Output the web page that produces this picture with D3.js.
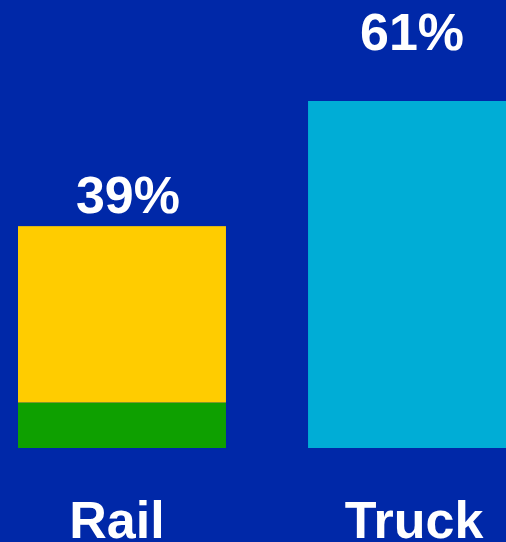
<!DOCTYPE html>
<html>
<head>
<meta charset="utf-8">
<script src="https://cdn.jsdelivr.net/npm/d3@7"></script>
<style>
  html, body { margin: 0; padding: 0; background: #0028A8; overflow: hidden; }
  text { font-family: "Liberation Sans", Arial, sans-serif; font-weight: bold; fill: #fff; }
</style>
</head>
<body>
<div id="chart"></div>
<script>
// datos
const modes = ["Rail", "Truck"];
const series = ["base", "top"];
const baseValues = [8, 61];   // parte inferior de cada barra
const topValues = [31, 0];    // parte superior (solo Rail)
const totalLabels = ["39%", "61%"];

const colores = {
  Rail: ["#0EA000", "#FFCC00"],
  Truck: ["#00ADD6", "#00ADD6"]
};

const W = 506, H = 542;
const svg = d3.select("#chart").append("svg").attr("width", W).attr("height", H);

svg.append("rect").attr("width", W).attr("height", H).attr("fill", "#0028A8");

// escaladores
const x = d3.scaleBand().domain(modes).range([18, 516]).paddingInner(0.283).paddingOuter(0);
const y = d3.scaleLinear().domain([0, 61]).range([448, 101]);

const tabla = modes.map((m, i) => ({ mode: m, base: baseValues[i], top: topValues[i] }));
const stacked = d3.stack().keys(series)(tabla);

svg.append("g")
  .selectAll("g")
  .data(stacked)
  .join("g")
  .selectAll("rect")
  .data((s, si) => s.map((d) => ({ d, si })))
  .join("rect")
  .attr("x", (e) => x(e.d.data.mode))
  .attr("width", x.bandwidth())
  .attr("y", (e) => y(e.d[1]))
  .attr("height", (e) => y(e.d[0]) - y(e.d[1]))
  .attr("fill", (e) => colores[e.d.data.mode][e.si]);

// etiquetas de total (separacion distinta en el original)
const labelLift = { Rail: 13, Truck: 51 };
const labelShift = { Rail: 6, Truck: 0 };
svg.append("g")
  .selectAll("text")
  .data(tabla)
  .join("text")
  .attr("x", (d) => x(d.mode) + x.bandwidth() / 2 + labelShift[d.mode])
  .attr("y", (d) => y(d.base + d.top) - labelLift[d.mode])
  .attr("text-anchor", "middle")
  .style("font-size", "52px")
  .text((d, i) => totalLabels[i]);

// eje x (solo texto)
const tickShift = { Rail: -5, Truck: 2 };
const xAxis = svg.append("g")
  .attr("transform", "translate(0,538)")
  .call(d3.axisBottom(x).tickSize(0).tickPadding(0));
xAxis.select(".domain").remove();
xAxis.selectAll("text")
  .attr("dy", 0)
  .attr("dx", (d) => tickShift[d])
  .attr("fill", "#fff")
  .style("font-size", "52px")
  .style("font-family", '"Liberation Sans", Arial, sans-serif')
  .style("font-weight", "bold");
</script>
</body>
</html>
